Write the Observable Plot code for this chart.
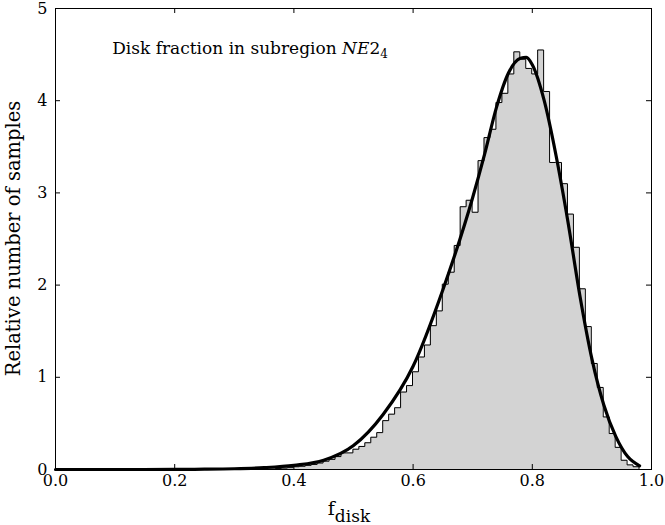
<!DOCTYPE html>
<html><head><meta charset="utf-8">
<script src="https://cdn.jsdelivr.net/npm/d3@7"></script>
<script src="https://cdn.jsdelivr.net/npm/@observablehq/plot@0.6"></script>
<style>body{margin:0;background:#fff;}</style>
</head><body><div id="chart"></div>
<script>
// Histogram: bins of width 0.01 starting at 0.369
const binStart = 0.369;
const binWidth = 0.01;
const histValues = [
  0.01, 0.015, 0.02, 0.03, 0.035, 0.045, 0.055, 0.07, 0.09, 0.11,
  0.14, 0.18, 0.18, 0.22, 0.25, 0.29, 0.35, 0.40, 0.53, 0.60,
  0.67, 0.84, 0.91, 1.06, 1.22, 1.35, 1.56, 1.72, 2.01, 2.14,
  2.43, 2.85, 2.92, 2.79, 3.35, 3.60, 3.69, 3.98, 4.08, 4.29,
  4.53, 4.45, 4.35, 4.29, 4.55, 4.10, 3.33, 3.33, 3.10, 2.77,
  2.41, 1.96, 1.55, 1.15, 0.89, 0.57, 0.39, 0.24, 0.10, 0.05,
  0.03
];
// Smooth fitted curve
const curveX = [0, 0.1, 0.2, 0.25, 0.3, 0.35, 0.4, 0.45, 0.5, 0.55, 0.6, 0.65, 0.7, 0.72, 0.74, 0.76, 0.78, 0.79, 0.8, 0.82, 0.84, 0.86, 0.88, 0.9, 0.92, 0.94, 0.96, 0.98];
const curveY = [0, 0, 0.001, 0.003, 0.008, 0.02, 0.045, 0.1, 0.26, 0.6, 1.12, 1.95, 2.95, 3.42, 3.93, 4.3, 4.46, 4.47, 4.39, 4.0, 3.4, 2.68, 1.88, 1.2, 0.7, 0.36, 0.14, 0.04];
const xTicks = [0, 0.2, 0.4, 0.6, 0.8, 1.0];
const yTicks = [0, 1, 2, 3, 4, 5];
const annX = 0.096, annY = 4.5;

const edges = histValues.map((_, i) => binStart + i * binWidth);
const stepPts = [{x: edges[0], y: 0}];
histValues.forEach((v, i) => {
  stepPts.push({x: edges[i], y: v});
  stepPts.push({x: edges[i] + binWidth, y: v});
});
stepPts.push({x: edges[edges.length - 1] + binWidth, y: 0});
const curvePts = curveX.map((x, i) => ({x, y: curveY[i]}));

const W = 665, H = 525, mL = 55, mR = 14, mT = 8, mB = 56;
const FONT = "DejaVu Serif";
const chart = Plot.plot({
  width: W, height: H,
  marginLeft: mL, marginRight: mR, marginTop: mT, marginBottom: mB,
  x: {domain: [0, 1]},
  y: {domain: [0, 5]},
  style: {fontFamily: FONT, fontSize: "16px", background: "white", color: "black"},
  marks: [
    Plot.areaY(stepPts, {x: "x", y1: 0, y2: "y", fill: "#d3d3d3"}),
    Plot.line(stepPts, {x: "x", y: "y", stroke: "black", strokeWidth: 1}),
    Plot.line(curvePts, {x: "x", y: "y", stroke: "black", strokeWidth: 3.2, curve: "monotone-x"}),
    Plot.frame({stroke: "black", strokeWidth: 1}),
    Plot.tickX(xTicks, {x: d => d, insetTop: H - mT - mB - 5, stroke: "black"}),
    Plot.tickX(xTicks, {x: d => d, insetBottom: H - mT - mB - 5, stroke: "black"}),
    Plot.tickY(yTicks, {y: d => d, insetRight: W - mL - mR - 5, stroke: "black"}),
    Plot.tickY(yTicks, {y: d => d, insetLeft: W - mL - mR - 5, stroke: "black"}),
    Plot.axisX(xTicks, {tickSize: 0, tickPadding: 5, tickFormat: d3.format(".1f"), fontSize: 16, label: null}),
    Plot.axisY(yTicks, {tickSize: 0, tickPadding: 8, tickFormat: d3.format("d"), fontSize: 16, label: null})
  ]
});
document.getElementById("chart").appendChild(chart);

const sx = chart.scale("x"), sy = chart.scale("y");
const svg = d3.select(chart);

// annotation
const t = svg.append("text")
  .attr("x", sx.apply(annX)).attr("y", sy.apply(annY))
  .attr("text-anchor", "start")
  .attr("font-family", FONT).attr("font-size", 17).attr("fill", "black");
t.append("tspan").text("Disk fraction in subregion ");
t.append("tspan").attr("font-style", "italic").text("NE");
t.append("tspan").text("2");
t.append("tspan").attr("font-size", 12).attr("dy", 4).text("4");

// y label
svg.append("text")
  .attr("transform", `translate(20,${(sy.apply(0) + sy.apply(5)) / 2}) rotate(-90)`)
  .attr("text-anchor", "middle")
  .attr("font-family", FONT).attr("font-size", 19.5).attr("fill", "black")
  .text("Relative number of samples");

// x label f_disk
const xl = svg.append("text")
  .attr("x", sx.apply(0.5) - 4).attr("y", 515)
  .attr("text-anchor", "middle")
  .attr("font-family", FONT).attr("fill", "black");
xl.append("tspan").attr("font-size", 19).text("f");
xl.append("tspan").attr("font-size", 17).attr("dy", 7).text("disk");
</script>
</body></html>
